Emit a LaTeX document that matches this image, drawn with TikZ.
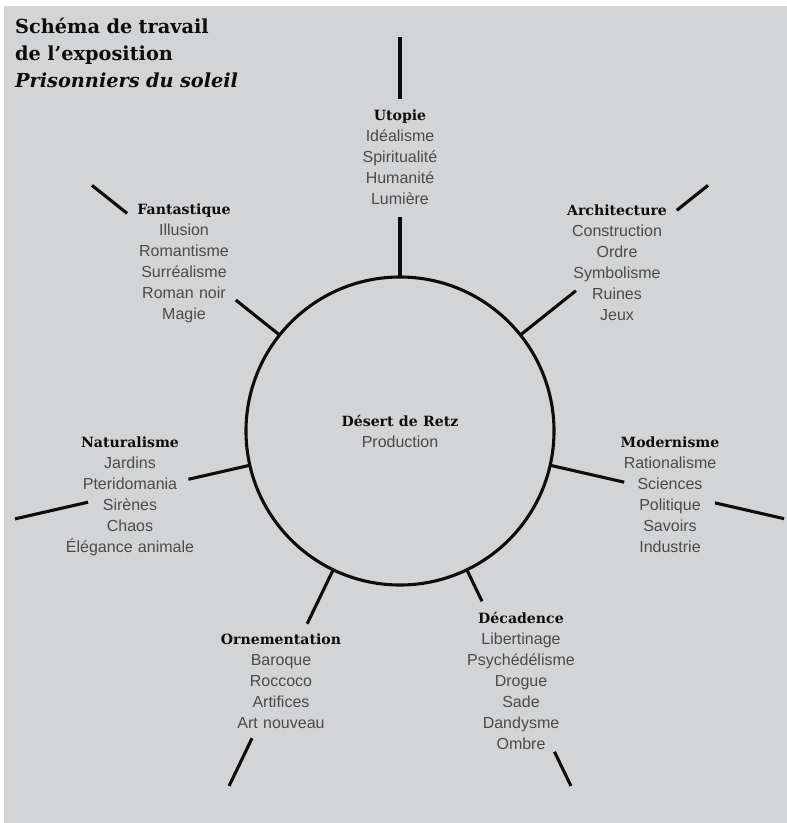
\documentclass[tikz,border=0pt]{standalone}
\usepackage{fontspec}
\setmainfont{Liberation Sans}
\newfontfamily\slabfont{DejaVu Serif}
\usetikzlibrary{calc}
\definecolor{bg}{HTML}{D3D4D6}
\definecolor{itemgray}{HTML}{4A4A4A}
\definecolor{ink}{HTML}{0D0D0D}
\newcommand{\hd}[1]{{\slabfont\bfseries\fontsize{14.1}{21}\selectfont\color{ink}#1}}
\tikzset{
  group/.style={text width=220pt, align=center, inner sep=0pt, outer sep=0pt, anchor=base,
    font=\fontsize{16}{21}\selectfont, text=itemgray},
  spoke/.style={line width=3.1pt, draw=ink},
  hubstyle/.style={circle, draw=ink, line width=3.1pt, minimum size=308pt, inner sep=0pt, outer sep=0pt},
}
\begin{document}
\begin{tikzpicture}[x=1pt,y=1pt]
\useasboundingbox (0,0) rectangle (787,-823);
\fill[white] (0,0) rectangle (787,-823);
\fill[bg] (4,-6) rectangle (787,-823);

\node[anchor=base west, text width=320pt, align=left, inner sep=0pt,
  font=\slabfont\bfseries\fontsize{19.3}{27}\selectfont, text=ink] (title) at (15,-33)
  {Schéma de travail\\de l’exposition\\\itshape Prisonniers du soleil};

\node[hubstyle] (hub) at (400,-431) {};
\node[group] (desert) at (400,-426) {\hd{Désert de Retz}\\Production};

\node[group] (utopie) at (400,-120) {\hd{Utopie}\\Idéalisme\\Spiritualité\\Humanité\\Lumière};
\node[group] (fantastique) at (184,-214) {\hd{Fantastique}\\Illusion\\Romantisme\\Surréalisme\\Roman noir\\Magie};
\node[group] (architecture) at (617,-215) {\hd{Architecture}\\Construction\\Ordre\\Symbolisme\\Ruines\\Jeux};
\node[group] (modernisme) at (670,-447) {\hd{Modernisme}\\Rationalisme\\Sciences\\Politique\\Savoirs\\Industrie};
\node[group] (naturalisme) at (130,-447) {\hd{Naturalisme}\\Jardins\\Pteridomania\\Sirènes\\Chaos\\Élégance animale};
\node[group] (decadence) at (521,-623) {\hd{Décadence}\\Libertinage\\Psychédélisme\\Drogue\\Sade\\Dandysme\\Ombre};
\node[group] (ornementation) at (281,-644) {\hd{Ornementation}\\Baroque\\Roccoco\\Artifices\\Art nouveau};

\foreach \n/\a/\ra/\rb/\rc in {u/90/214/332/394, ar/38.571/225/354/394, mo/-12.857/230/323/394,
    de/-64.286/189/356/394, or/-115.714/214/341/394, na/192.857/217/320/395, fa/141.429/210/349/394}{
  \coordinate (\n-0) at ($(hub.center)+(\a:154pt)$);
  \coordinate (\n-1) at ($(hub.center)+(\a:\ra pt)$);
  \coordinate (\n-2) at ($(hub.center)+(\a:\rb pt)$);
  \coordinate (\n-3) at ($(hub.center)+(\a:\rc pt)$);
  \draw[spoke] (\n-0) -- (\n-1);
  \draw[spoke] (\n-2) -- (\n-3);
}
\end{tikzpicture}
\end{document}
